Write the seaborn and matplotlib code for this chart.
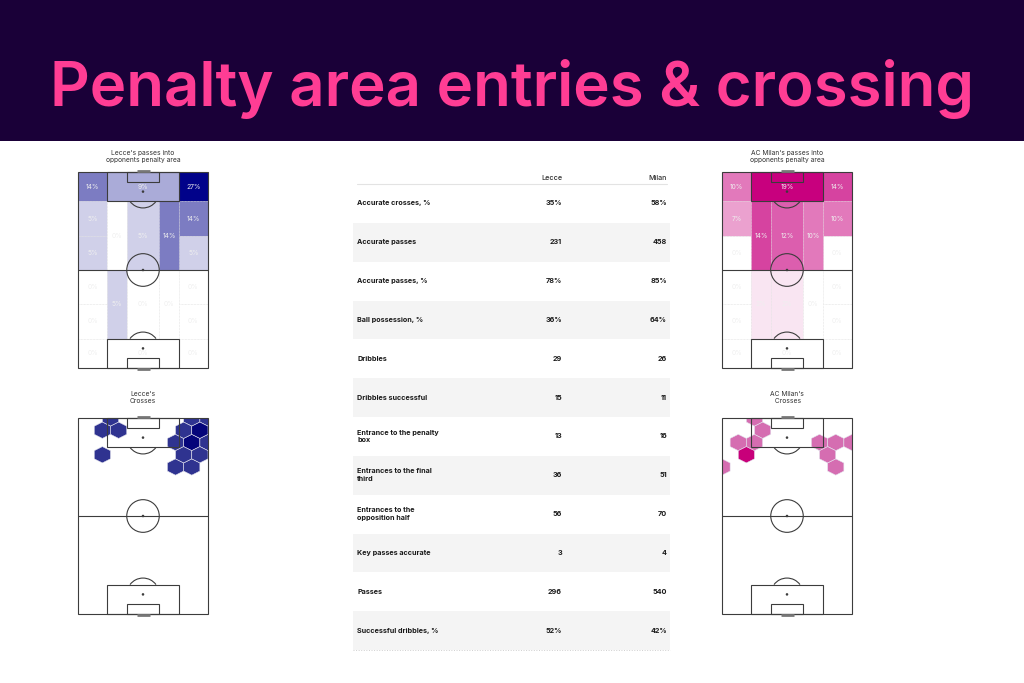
import numpy as np
import pandas as pd
import matplotlib
matplotlib.use("Agg")
import matplotlib.pyplot as plt
from matplotlib.patches import Rectangle, Circle, Arc
from matplotlib.colors import ListedColormap, Normalize
import seaborn as sns

sns.set_theme(style="white")
plt.rcParams['font.family'] = ['Inter', 'DejaVu Sans']

# ---------------- data ----------------
TITLE = "Penalty area entries & crossing"
teams = ["Lecce", "Milan"]

stat_names = [
    "Accurate crosses, %", "Accurate passes", "Accurate passes, %",
    "Ball possession, %", "Dribbles", "Dribbles successful",
    "Entrance to the penalty\nbox", "Entrances to the final\nthird",
    "Entrances to the\nopposition half", "Key passes accurate",
    "Passes", "Successful dribbles, %",
]
lecce_stats = ["35%", "231", "78%", "36%", "29", "15", "13", "36", "56", "3", "296", "52%"]
milan_stats = ["58%", "458", "85%", "64%", "26", "11", "16", "51", "70", "4", "540", "42%"]

# zone order: box, left wide (top->bottom x6), right wide (x6),
# left half-space (att, def), centre (att, def), right half-space (att, def), own box
zone_names = ["box",
              "lw1", "lw2", "lw3", "lw4", "lw5", "lw6",
              "rw1", "rw2", "rw3", "rw4", "rw5", "rw6",
              "hsl_a", "hsl_d", "c_a", "c_d", "hsr_a", "hsr_d", "own_box"]
lecce_zone_pct = [9, 14, 5, 5, 0, 0, 0, 27, 14, 5, 0, 0, 0, 0, 5, 5, 0, 14, 0, 0]
milan_zone_pct = [19, 10, 7, 0, 0, 0, 0, 14, 10, 0, 0, 0, 0, 14, 2, 12, 2, 10, 0, 0]

# cross start locations (pitch coords: x across 0-80, y along 0-120)
lecce_cross_x = [20, 15, 25, 15, 70, 79, 65, 75, 75, 60, 70, 70, 79, 65, 75, 60, 70]
lecce_cross_y = [119, 112.5, 112.5, 97.5, 119, 119, 112.5, 112.5, 112.5, 105, 105, 105, 105,
                 97.5, 97.5, 90, 90]
milan_cross_x = [20, 25, 10, 20, 15, 15, 1, 60, 70, 79, 65, 70]
milan_cross_y = [119, 112.5, 105, 105, 97.5, 97.5, 90, 105, 105, 105, 97.5, 90]

# ---------------- figure ----------------
W, H = 1024, 683
fig = plt.figure(figsize=(W / 100, H / 100), dpi=100)
fig.patch.set_facecolor("white")


def px_axes(left, top, width, height):
    return fig.add_axes([left / W, 1 - (top + height) / H, width / W, height / H])


# banner
fig.patches.append(Rectangle((0, 1 - 141 / H), 1, 141 / H, transform=fig.transFigure,
                             facecolor="#1a0038", edgecolor="none", zorder=0))
fig.text(512 / W, 1 - 106 / H, TITLE, ha="center", va="baseline", color="#ff3d94",
         fontsize=44.5, fontweight="semibold")

PL, PW = 120, 80
LINE = "#3c3c3c"


def pitch_axes(left, top):
    pad = 6
    ax = px_axes(left - pad, top - pad, 130 + 2 * pad, 196 + 2 * pad)
    ux, uy = pad * PW / 130, pad * PL / 196
    ax.set_xlim(-ux, PW + ux)
    ax.set_ylim(-uy, PL + uy)
    ax.axis("off")
    return ax


def draw_pitch(ax):
    kw = dict(fill=False, edgecolor=LINE, lw=0.8, zorder=5)
    ax.add_patch(Rectangle((0, 0), PW, PL, **kw))
    ax.plot([0, PW], [60, 60], color=LINE, lw=0.8, zorder=5)
    ax.add_patch(Circle((40, 60), 10, **kw))
    for y0, h in [(102, 18), (0, 18)]:
        ax.add_patch(Rectangle((18, y0), 44, h, **kw))
    for y0 in [114, 0]:
        ax.add_patch(Rectangle((30, y0), 20, 6, **kw))
    for cy in [108, 12, 60]:
        ax.add_patch(Circle((40, cy), 0.35, color=LINE, zorder=5))
    ax.add_patch(Arc((40, 108), 20, 20, theta1=216.87, theta2=323.13, color=LINE, lw=0.8, zorder=5))
    ax.add_patch(Arc((40, 12), 20, 20, theta1=36.87, theta2=143.13, color=LINE, lw=0.8, zorder=5))
    for gy in [PL + 0.6, -0.6]:
        ax.plot([36, 44], [gy, gy], color="#777777", lw=2, zorder=5, solid_capstyle="butt")


def zone_bounds():
    rows = [102, 81, 60, 39, 18, 0]
    tops = [120, 102, 81, 60, 39, 18]
    b = [(18, 62, 102, 120)]
    for x0, x1 in [(0, 18), (62, 80)]:
        for t, r in zip(tops, rows):
            b.append((x0, x1, r, t))
    for x0, x1 in [(18, 30), (30, 50), (50, 62)]:
        b.append((x0, x1, 60, 102))
        b.append((x0, x1, 18, 60))
    b.append((18, 62, 0, 18))
    return b


def draw_zones(ax, values, color):
    cmap = sns.blend_palette(["#ffffff", color], as_cmap=True)
    norm = Normalize(0, max(values))
    for (x0, x1, y0, y1), v in zip(zone_bounds(), values):
        ax.add_patch(Rectangle((x0, y0), x1 - x0, y1 - y0, facecolor=cmap(norm(v)),
                               edgecolor="#d9d9d9", lw=0.4, ls=":", zorder=1))
        ax.text((x0 + x1) / 2, (y0 + y1) / 2, f"{v}%", ha="center", va="center",
                fontsize=4.8, color="#efefef", zorder=6)


def draw_hex(ax, x, y, c1, c2):
    cmap = sns.blend_palette([c1, c2], as_cmap=True)
    hb = ax.hexbin(x, y, gridsize=(8, 8), extent=(0, PW, 0, PL), mincnt=1, cmap=cmap,
                   vmin=1, vmax=2, edgecolors="#e4e4ee", linewidths=0.4, zorder=2)
    clip = Rectangle((0, 0), PW, PL, transform=ax.transData)
    hb.set_clip_path(clip)


# heatmap pitches
ax1 = pitch_axes(78, 172)
draw_zones(ax1, lecce_zone_pct, "#01028a")
draw_pitch(ax1)
ax2 = pitch_axes(722, 172)
draw_zones(ax2, milan_zone_pct, "#c8007e")
draw_pitch(ax2)

# crosses pitches
ax3 = pitch_axes(78, 418)
draw_hex(ax3, lecce_cross_x, lecce_cross_y, "#2f3390", "#05057a")
draw_pitch(ax3)
ax4 = pitch_axes(722, 418)
draw_hex(ax4, milan_cross_x, milan_cross_y, "#d56db1", "#c8007a")
draw_pitch(ax4)

# pitch titles
tkw = dict(ha="center", va="center", fontsize=4.8, color="#333333", linespacing=1.25)
fig.text(143 / W, 1 - 156.5 / H, "Lecce's passes into\nopponents penalty area", **tkw)
fig.text(787 / W, 1 - 156.5 / H, "AC Milan's passes into\nopponents penalty area", **tkw)
fig.text(143 / W, 1 - 397.5 / H, "Lecce's\nCrosses", **tkw)
fig.text(787 / W, 1 - 397.5 / H, "AC Milan's\n Crosses", **tkw)

# ---------------- table ----------------
L, T, TW, TH = 353, 184, 317, 466
axt = px_axes(L, T, TW, TH)
stripes = pd.DataFrame({"bg": [i % 2 for i in range(len(stat_names))]}, index=stat_names)
sns.heatmap(stripes, ax=axt, cmap=ListedColormap(["#ffffff", "#f4f4f4"]), cbar=False,
            xticklabels=False, yticklabels=False, linewidths=0)
axt.set_xlabel("")
axt.set_ylabel("")
x_lab = (357 - L) / TW
x_c1 = (562 - L) / TW
x_c2 = (667 - L) / TW
FS = 5.2
for i, (name, a, b) in enumerate(zip(stat_names, lecce_stats, milan_stats)):
    yy = i + 0.5
    axt.text(x_lab, yy, name, ha="left", va="center", fontsize=FS, fontweight="bold",
             color="#1a1a1a", linespacing=1.3)
    axt.text(x_c1, yy, a, ha="right", va="center", fontsize=FS, fontweight="bold", color="#1a1a1a")
    axt.text(x_c2, yy, b, ha="right", va="center", fontsize=FS, fontweight="bold", color="#1a1a1a")
hy = -(T - 178) / 38.8
axt.text(x_c1, hy, teams[0], ha="right", va="center", fontsize=FS, fontweight="medium",
         color="#333333", clip_on=False)
axt.text(x_c2, hy, teams[1], ha="right", va="center", fontsize=FS, fontweight="medium",
         color="#333333", clip_on=False)
axt.plot([x_lab, x_c2], [0, 0], color="#e3e3e3", lw=0.8, clip_on=False)
axt.plot([0, 1], [len(stat_names), len(stat_names)], color="#cfcfcf", lw=0.7, ls=":",
         clip_on=False)
for s in axt.spines.values():
    s.set_visible(False)

fig.savefig("out.png", dpi=100, facecolor="white")
